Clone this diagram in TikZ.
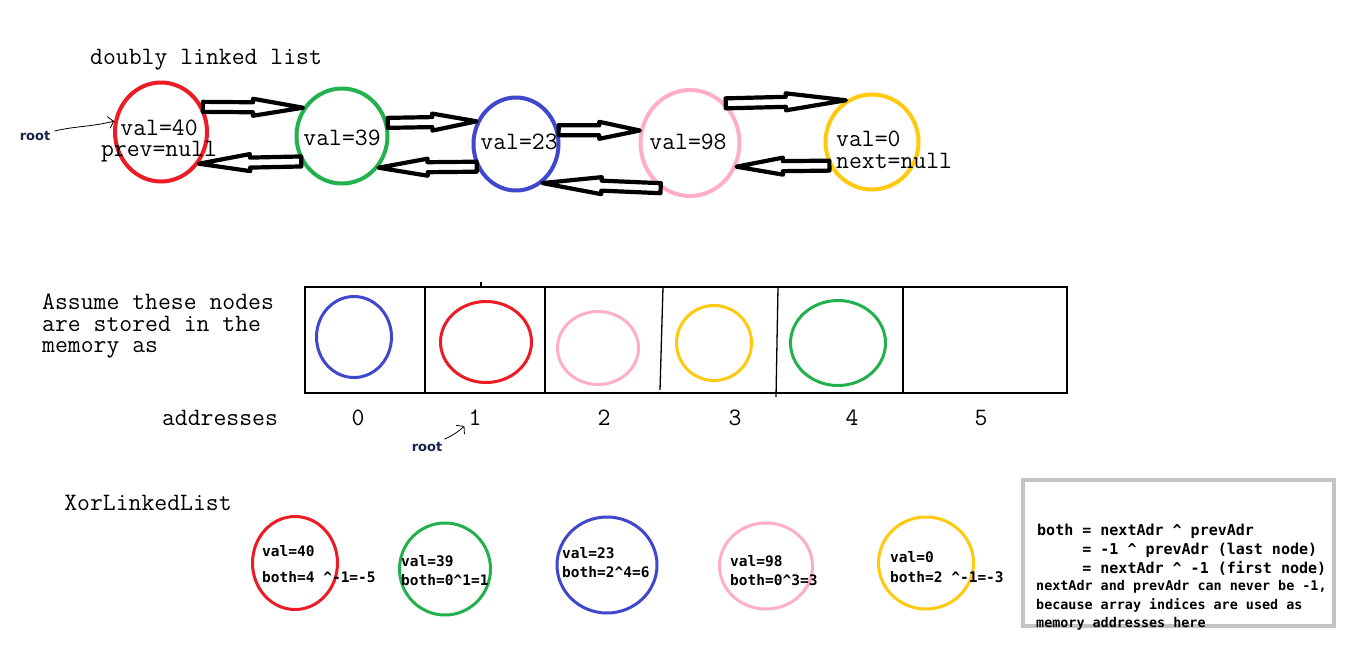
\documentclass[tikz,border=0pt]{standalone}
\usepackage{fontspec}
\setmainfont{Liberation Serif}
\newfontfamily\codemono{DejaVu Sans Mono}
\newfontfamily\notesans{DejaVu Sans}
\usetikzlibrary{shapes.geometric,calc,arrows.meta}

\definecolor{pntred}{RGB}{237,28,36}
\definecolor{pntgreen}{RGB}{34,177,76}
\definecolor{pntblue}{RGB}{63,72,204}
\definecolor{pntpink}{RGB}{255,174,201}
\definecolor{pntyellow}{RGB}{255,201,14}
\definecolor{pntgray}{RGB}{195,195,195}
\definecolor{rootnavy}{RGB}{25,35,80}

% hollow block arrow between two anchors: #1 tail, #2 tip
\newcommand\fatarrow[2]{%
  \draw[fatarr]
    ($(#1)!5pt!90:(#2)$) -- ($(#1)!.5!(#2)!5pt!90:(#2)$)
    -- ($(#1)!.5!(#2)!8.5pt!90:(#2)$) -- (#2)
    -- ($(#1)!.5!(#2)!8.5pt!-90:(#2)$) -- ($(#1)!.5!(#2)!5pt!-90:(#2)$)
    -- ($(#1)!5pt!-90:(#2)$) -- cycle;}

\begin{document}
\begin{tikzpicture}[x=1pt, y=-1pt,
    dnode/.style  ={ellipse, draw, line width=4pt, inner sep=0pt},
    mnode/.style  ={ellipse, draw, line width=3pt, inner sep=0pt},
    xnode/.style  ={ellipse, draw, line width=3pt, inner sep=0pt},
    fatarr/.style ={draw=black, line width=4.2pt, line join=round, fill=white},
    memline/.style={draw=black, line width=1.3pt},
    big/.style    ={font=\ttfamily\fontsize{25}{21.5}\selectfont, inner sep=0pt},
    code/.style   ={font=\codemono\bfseries\fontsize{14.5}{14.5}\selectfont,
                    inner sep=0pt, anchor=west},
    rootlab/.style={font=\notesans\bfseries\fontsize{13}{13}\selectfont,
                    text=rootnavy, inner sep=0pt},
    rootarr/.style={-{Straight Barb[length=5pt,width=12pt]}, line width=0.8pt},
    note/.style   ={font=\codemono\bfseries, align=left, inner sep=0pt,
                    anchor=north west}
  ]
    \useasboundingbox[fill=white] (0,0) rectangle (1360,659);

    % --- doubly linked list ---
    \node[big] (dllTitle) at (206,60) {doubly linked list};
    \node[dnode, draw=pntred,    minimum width=92, minimum height=99]  (r1) at (161,132) {};
    \node[dnode, draw=pntgreen,  minimum width=91, minimum height=95]  (g1) at (342,136) {};
    \node[dnode, draw=pntblue,   minimum width=85, minimum height=93]  (b1) at (516,144) {};
    \node[dnode, draw=pntpink,   minimum width=99, minimum height=106] (p1) at (690,143) {};
    \node[dnode, draw=pntyellow, minimum width=93, minimum height=95]  (y1) at (872,142) {};
    \node[big, align=center] (r1txt) at (159,141) {val=40\\prev=null};
    \node[big] (g1val)  at (342,138) {val=39};
    \node[big] (b1val)  at (519,142) {val=23};
    \node[big] (p1val)  at (688,142) {val=98};
    \node[big, align=left, anchor=west] (y1txt) at (836,150) {val=0\\next=null};

    \fatarrow{r1.31}{g1.144}
    \fatarrow{g1.212}{r1.320}
    \fatarrow{g1.16}{b1.150}
    \fatarrow{b1.210}{g1.319}
    \fatarrow{b1.18}{p1.166}
    \fatarrow{p1.237}{b1.304}
    \fatarrow{p1.48}{y1.122}
    \fatarrow{y1.209}{p1.333}

    \node[rootlab] (root1) at (35,136) {root};
    \draw[rootarr] ([xshift=4pt,yshift=5pt]root1.east)
      .. controls (76,126) and (90,127) .. (r1.167);

    % --- memory layout ---
    \node[big, align=left, anchor=north west] (memText) at (42,294)
      {Assume these nodes\\are stored in the\\memory as};
    \draw[memline] (305,287) rectangle (1067,393);
    \foreach \x in {425,545,903}
      \draw[memline] (\x,287) -- (\x,393);
    \draw[memline] (663,287) -- (660,390);
    \draw[memline] (778,287) -- (776,397);
    \draw[memline] (481,282) -- (481,287);

    \node[mnode, draw=pntblue,   minimum width=75, minimum height=81] (m0) at (354,337) {};
    \node[mnode, draw=pntred,    minimum width=91, minimum height=81] (m1) at (486,342) {};
    \node[mnode, draw=pntpink,   minimum width=81, minimum height=73] (m2) at (598,348) {};
    \node[mnode, draw=pntyellow, minimum width=75, minimum height=75] (m3) at (714,343) {};
    \node[mnode, draw=pntgreen,  minimum width=95, minimum height=85] (m4) at (838,343) {};

    \node[big] (addrLab) at (220,418) {addresses};
    \foreach \i/\x in {0/358,1/475,2/604,3/735,4/852,5/981}
      \node[big] (addr\i) at (\x,418) {\i};

    \node[rootlab] (root2) at (427,447) {root};
    \draw[rootarr] ([xshift=2pt,yshift=3pt]root2.north east)
      .. controls (452,436) and (458,432) .. ([xshift=-4pt]addr1.south west);

    % --- xor linked list ---
    \node[big] (xorTitle) at (148,503) {XorLinkedList};
    \node[xnode, draw=pntred,    minimum width=85,  minimum height=93] (x1) at (295,563) {};
    \node[xnode, draw=pntgreen,  minimum width=91,  minimum height=92] (x2) at (445,569) {};
    \node[xnode, draw=pntblue,   minimum width=100, minimum height=96] (x3) at (607,565) {};
    \node[xnode, draw=pntpink,   minimum width=93,  minimum height=86] (x4) at (766,566) {};
    \node[xnode, draw=pntyellow, minimum width=95,  minimum height=92] (x5) at (926,563) {};

    \node[code] (x1val)  at (262,551) {val=40};
    \node[code] (x1both) at (262,577) {both=4 \textasciicircum-1=-5};
    \node[code] (x2val)  at (401,561) {val=39};
    \node[code] (x2both) at (401,580) {both=0\textasciicircum1=1};
    \node[code] (x3val)  at (562,553) {val=23};
    \node[code] (x3both) at (562,572) {both=2\textasciicircum4=6};
    \node[code] (x4val)  at (730,561) {val=98};
    \node[code] (x4both) at (730,580) {both=0\textasciicircum3=3};
    \node[code] (x5val)  at (890,557) {val=0};
    \node[code] (x5both) at (890,577) {both=2 \textasciicircum-1=-3};

    % --- note box ---
    \node[draw=pntgray, line width=4pt, minimum width=311, minimum height=146,
          inner sep=0pt] (noteBox) at (1178.5,553) {};
    \node[note, font=\codemono\bfseries\fontsize{15}{18.7}\selectfont]
      (noteEq) at (1037,524)
      {both = nextAdr \textasciicircum{} prevAdr\\
       \hphantom{both} = -1 \textasciicircum{} prevAdr (last node)\\
       \hphantom{both} = nextAdr \textasciicircum{} -1 (first node)};
    \node[note, font=\codemono\bfseries\fontsize{13.4}{18.7}\selectfont]
      (noteWhy) at (1036,580)
      {nextAdr and prevAdr can never be -1,\\
       because array indices are used as\\
       memory addresses here};
  \end{tikzpicture}
\end{document}
